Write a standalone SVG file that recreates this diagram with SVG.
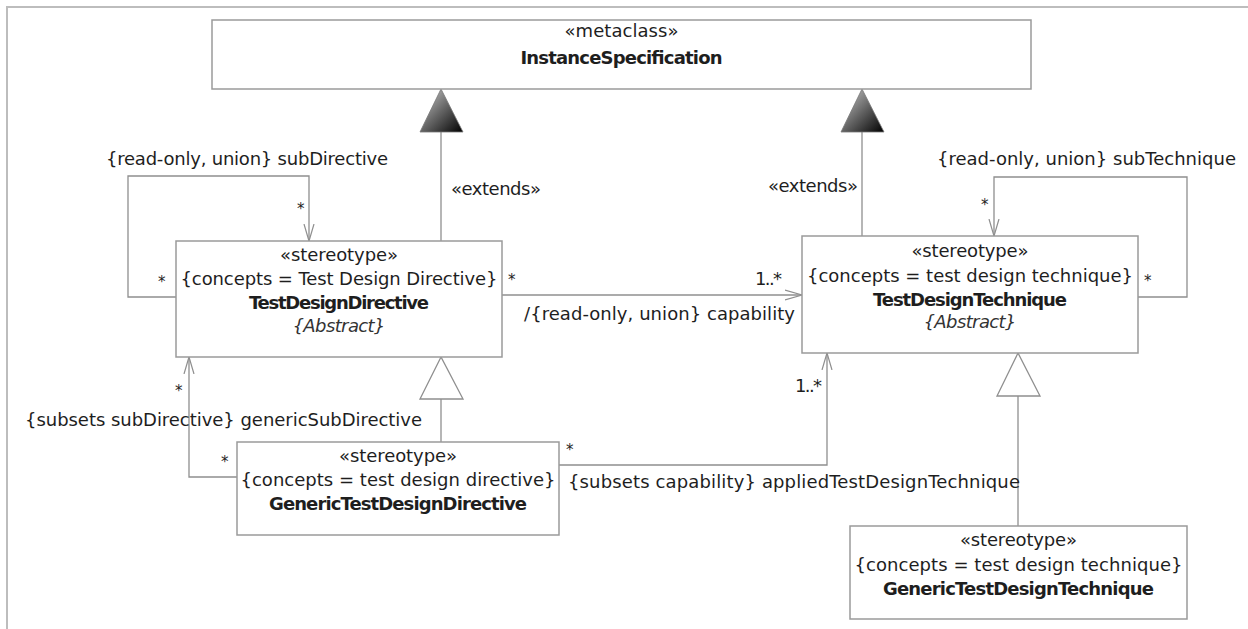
<svg xmlns="http://www.w3.org/2000/svg" width="1248" height="629" viewBox="0 0 1248 629">
<style>
  text { font-family: "DejaVu Sans", "Liberation Sans", sans-serif; font-size: 18px; fill: #1e1e1e; }
  .c { text-anchor: middle; }
  .b { font-weight: bold; }
  .i { font-style: italic; fill: #333333; }
  .star { font-size: 15px; fill: #1e1e1e; }
  .box { fill: #ffffff; stroke: #9a9a9a; stroke-width: 1.5; }
  .ln { fill: none; stroke: #8f8f8f; stroke-width: 1.3; }
  .hollow { fill: #ffffff; stroke: #8f8f8f; stroke-width: 1.3; }
  .frame { fill: none; stroke: #bdbdbd; stroke-width: 2; }
</style>
<defs>
  <linearGradient id="ext" x1="0" y1="0" x2="1" y2="1">
    <stop offset="0" stop-color="#d0d0d0"/>
    <stop offset="0.5" stop-color="#666666"/>
    <stop offset="1" stop-color="#000000"/>
  </linearGradient>
  <marker id="open" markerWidth="20" markerHeight="12" refX="17" refY="6" orient="auto" markerUnits="userSpaceOnUse">
    <path d="M0,1 L17,6 L0,11" fill="none" stroke="#8f8f8f" stroke-width="1.2"/>
  </marker>
</defs>
<rect width="1248" height="629" fill="#ffffff"/>
<path class="frame" d="M7,629 L7,7 L1248,7"/>

<g id="connectors">
  <line class="ln" x1="441" y1="132" x2="441" y2="241"/>
  <polygon points="441,89 420,132 463,132" fill="url(#ext)" stroke="#777" stroke-width="0.8"/>
  <line class="ln" x1="862" y1="132" x2="862" y2="236"/>
  <polygon points="862,89 841,132 884,132" fill="url(#ext)" stroke="#777" stroke-width="0.8"/>
  <polyline class="ln" points="176,297 128,297 128,176 309,176 309,241" marker-end="url(#open)"/>
  <polyline class="ln" points="1138,297 1187,297 1187,177 994,177 994,236" marker-end="url(#open)"/>
  <line class="ln" x1="502" y1="295" x2="802" y2="295" marker-end="url(#open)"/>
  <polyline class="ln" points="237,477 189,477 189,357" marker-end="url(#open)"/>
  <polyline class="ln" points="559,465 827,465 827,353" marker-end="url(#open)"/>
  <line class="ln" x1="441" y1="399" x2="441" y2="442"/>
  <polygon class="hollow" points="441,357 420,399 463,399"/>
  <line class="ln" x1="1018" y1="396" x2="1018" y2="526"/>
  <polygon class="hollow" points="1018,353 997,396 1040,396"/>

  <text x="451" y="195" textLength="90">«extends»</text>
  <text x="768" y="192" textLength="90">«extends»</text>
  <text x="106" y="165" textLength="282">{read-only, union} subDirective</text>
  <text x="937" y="165" textLength="299">{read-only, union} subTechnique</text>
  <text x="524" y="320" textLength="271">/{read-only, union} capability</text>
  <text x="25" y="426" textLength="397">{subsets subDirective} genericSubDirective</text>
  <text x="568" y="488" textLength="452">{subsets capability} appliedTestDesignTechnique</text>
  <text x="755" y="285" textLength="27">1..*</text>
  <text x="795" y="392" textLength="27">1..*</text>
  <text class="star" x="297" y="214">*</text>
  <text class="star" x="158" y="287">*</text>
  <text class="star" x="508" y="285">*</text>
  <text class="star" x="981" y="210">*</text>
  <text class="star" x="1144" y="286">*</text>
  <text class="star" x="175" y="396">*</text>
  <text class="star" x="221" y="467">*</text>
  <text class="star" x="566" y="455">*</text>
</g>

<g id="InstanceSpecification">
  <rect class="box" x="212" y="20" width="819" height="69"/>
  <text class="c" x="621.5" y="37" textLength="114">«metaclass»</text>
  <text class="c b" x="621.5" y="64" textLength="202">InstanceSpecification</text>
</g>

<g id="TestDesignDirective">
  <rect class="box" x="176" y="241" width="326" height="116"/>
  <text class="c" x="339" y="261" textLength="118">«stereotype»</text>
  <text class="c" x="339" y="285" textLength="317">{concepts = Test Design Directive}</text>
  <text class="c b" x="339" y="309" textLength="180">TestDesignDirective</text>
  <text class="c i" x="339" y="332" textLength="93">{Abstract}</text>
</g>

<g id="TestDesignTechnique">
  <rect class="box" x="802" y="236" width="336" height="117"/>
  <text class="c" x="970" y="257" textLength="117">«stereotype»</text>
  <text class="c" x="970" y="282" textLength="326">{concepts = test design technique}</text>
  <text class="c b" x="970" y="306" textLength="194">TestDesignTechnique</text>
  <text class="c i" x="970" y="328" textLength="93">{Abstract}</text>
</g>

<g id="GenericTestDesignDirective">
  <rect class="box" x="237" y="442" width="322" height="93"/>
  <text class="c" x="398" y="462" textLength="118">«stereotype»</text>
  <text class="c" x="398" y="486" textLength="315">{concepts = test design directive}</text>
  <text class="c b" x="398" y="510" textLength="258">GenericTestDesignDirective</text>
</g>

<g id="GenericTestDesignTechnique">
  <rect class="box" x="850" y="526" width="337" height="93"/>
  <text class="c" x="1018.5" y="546" textLength="117">«stereotype»</text>
  <text class="c" x="1018.5" y="571" textLength="328">{concepts = test design technique}</text>
  <text class="c b" x="1018.5" y="595" textLength="271">GenericTestDesignTechnique</text>
</g>
</svg>
